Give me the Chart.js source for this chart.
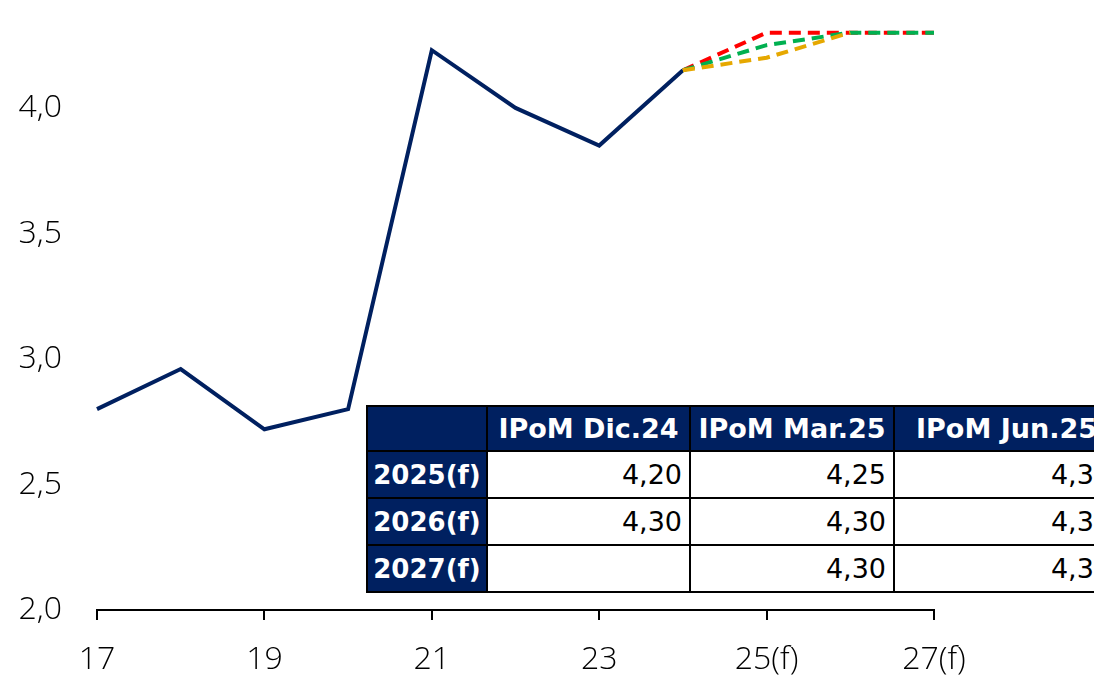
<!DOCTYPE html>
<html lang="es">
<head>
    <meta charset="UTF-8">
    <title>Crecimiento tendencial</title>
    <script src="https://cdn.jsdelivr.net/npm/chart.js"></script>
    <style>
        html, body {
            margin: 0;
            padding: 0;
            background: #ffffff;
            overflow: hidden;
        }
        #wrap {
            position: relative;
            width: 1094px;
            height: 678px;
            overflow: hidden;
        }
        #ipomTable {
            position: absolute;
            left: 366px;
            top: 405px;
            width: 752px;
            border-collapse: collapse;
            font-family: "DejaVu Sans", "Liberation Sans", sans-serif;
            font-size: 27px;
            color: #000;
            background: #fff;
            table-layout: fixed;
        }
        #ipomTable td, #ipomTable th {
            border: 2px solid #000;
            padding: 0 7px 0 0;
            white-space: nowrap;
            overflow: hidden;
        }
        #ipomTable th {
            background: #002060;
            color: #fff;
            font-weight: bold;
            height: 43px;
            text-align: center;
            padding: 0;
        }
        #ipomTable td {
            height: 45px;
            text-align: right;
        }
        #ipomTable td.rowhead {
            background: #002060;
            color: #fff;
            font-weight: bold;
            font-size: 26px;
            text-align: center;
            padding: 0;
        }
    </style>
</head>
<body>
<div id="wrap">
    <canvas id="chart" width="1094" height="678"></canvas>
    <table id="ipomTable"></table>
</div>
<script>
    // years on the x axis
    var years = ['17', '18', '19', '20', '21', '22', '23', '24', '25(f)', '26(f)', '27(f)'];
    // observed series
    var actual = [2.80, 2.96, 2.72, 2.80, 4.23, 4.00, 3.85, 4.15, null, null, null];
    // forecasts from each report
    var ipomDic24 = [null, null, null, null, null, null, null, 4.15, 4.20, 4.30, null];
    var ipomMar25 = [null, null, null, null, null, null, null, 4.15, 4.25, 4.30, 4.30];
    var ipomJun25 = [null, null, null, null, null, null, null, 4.15, 4.30, 4.30, 4.30];

    // table contents
    var tableCols = ['IPoM Dic.24', 'IPoM Mar.25', 'IPoM Jun.25'];
    var tableRows = ['2025(f)', '2026(f)', '2027(f)'];
    var tableVals = [
        ['4,20', '4,25', '4,30'],
        ['4,30', '4,30', '4,30'],
        ['', '4,30', '4,30']
    ];

    var yTicks = [2.0, 2.5, 3.0, 3.5, 4.0];

    // build table
    var tbl = document.getElementById('ipomTable');
    var colWidths = [120, 203, 204, 225];
    var cg = '<colgroup>' + colWidths.map(function(w) { return '<col style="width:' + w + 'px">'; }).join('') + '</colgroup>';
    var html = cg + '<tr><th></th>' + tableCols.map(function(c) { return '<th>' + c + '</th>'; }).join('') + '</tr>';
    tableRows.forEach(function(r, i) {
        html += '<tr><td class="rowhead">' + r + '</td>' + tableVals[i].map(function(v) { return '<td>' + v + '</td>'; }).join('') + '</tr>';
    });
    tbl.innerHTML = html;

    var tickFont = { family: '"Open Sans", "Liberation Sans", sans-serif', size: 32, weight: 300 };

    function dashed(label, data, color) {
        return {
            label: label,
            data: data,
            borderColor: color,
            borderWidth: 4,
            borderDash: [12, 7],
            pointRadius: 0,
            fill: false,
            tension: 0,
            spanGaps: false
        };
    }

    var ctx = document.getElementById('chart').getContext('2d');
    var chart = new Chart(ctx, {
        type: 'line',
        data: {
            labels: years,
            datasets: [
                dashed('IPoM Dic.24', ipomDic24, '#E6A800'),
                dashed('IPoM Mar.25', ipomMar25, '#00B050'),
                dashed('IPoM Jun.25', ipomJun25, '#FF0000'),
                {
                    label: 'Efectivo',
                    data: actual,
                    borderColor: '#002060',
                    borderWidth: 4,
                    pointRadius: 0,
                    fill: false,
                    tension: 0
                }
            ]
        },
        options: {
            responsive: false,
            animation: false,
            layout: { padding: { left: 0, right: 160, top: 0, bottom: 0 } },
            plugins: {
                legend: { display: false },
                tooltip: { enabled: false }
            },
            scales: {
                x: {
                    offset: false,
                    grid: {
                        drawOnChartArea: false,
                        drawTicks: true,
                        tickLength: 10,
                        color: '#000',
                        lineWidth: 2
                    },
                    border: { display: true, color: '#000', width: 2 },
                    ticks: {
                        autoSkip: false,
                        maxRotation: 0,
                        padding: 21,
                        color: '#000',
                        font: tickFont,
                        callback: function(v, i) {
                            return i % 2 === 0 ? years[i] : null;
                        }
                    },
                    afterFit: function(s) {
                        s.height = 68;
                        s.paddingLeft = 0;
                        s.paddingRight = 0;
                    }
                },
                y: {
                    min: 2.0,
                    max: 4.43,
                    grid: { display: false, drawTicks: false },
                    border: { display: false },
                    afterBuildTicks: function(s) {
                        s.ticks = yTicks.map(function(v) { return { value: v }; });
                    },
                    ticks: {
                        padding: 35,
                        color: '#000',
                        font: tickFont,
                        callback: function(v) { return v.toFixed(1).replace('.', ','); }
                    },
                    afterFit: function(s) {
                        s.width = 97;
                        s.paddingTop = 0;
                        s.paddingBottom = 0;
                    }
                }
            }
        }
    });
</script>
</body>
</html>
